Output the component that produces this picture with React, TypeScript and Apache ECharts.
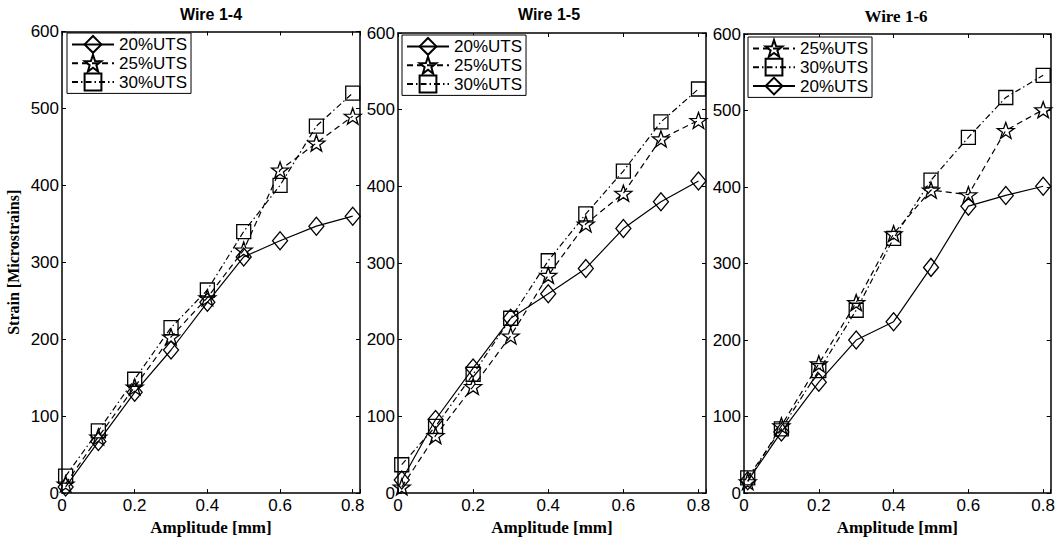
import React, { useEffect, useRef } from "react";
import * as echarts from "echarts";

// ---- data ----
const amplitude = [0.01, 0.1, 0.2, 0.3, 0.4, 0.5, 0.6, 0.7, 0.8];

const wire14_20 = [8, 67, 131, 186, 248, 307, 328, 347, 360];
const wire14_25 = [12, 73, 138, 203, 254, 316, 420, 455, 490];
const wire14_30 = [22, 81, 148, 215, 264, 340, 400, 477, 520];

const wire15_20 = [17, 96, 163, 228, 260, 293, 345, 380, 407];
const wire15_25 = [8, 75, 139, 205, 284, 351, 391, 462, 486];
const wire15_30 = [37, 87, 155, 228, 303, 364, 420, 484, 527];

const wire16_25 = [15, 88, 169, 249, 339, 396, 390, 474, 501];
const wire16_30 = [20, 84, 160, 239, 333, 409, 465, 517, 546];
const wire16_20 = [16, 80, 145, 200, 224, 295, 375, 389, 401];

const panelTitles = ["Wire 1-4", "Wire 1-5", "Wire 1-6"];
const seriesNames = ["20%UTS", "25%UTS", "30%UTS"];
const legendOrders = [
  ["20%UTS", "25%UTS", "30%UTS"],
  ["20%UTS", "25%UTS", "30%UTS"],
  ["25%UTS", "30%UTS", "20%UTS"],
];
const panelData = [
  { "20%UTS": wire14_20, "25%UTS": wire14_25, "30%UTS": wire14_30 },
  { "20%UTS": wire15_20, "25%UTS": wire15_25, "30%UTS": wire15_30 },
  { "20%UTS": wire16_20, "25%UTS": wire16_25, "30%UTS": wire16_30 },
];
const xAxisName = "Amplitude [mm]";
const yAxisName = "Strain [Microstrains]";

// ---- layout / style ----
const grids = [
  { left: 62, top: 31.5, width: 298, height: 467.5 },
  { left: 398, top: 33, width: 308, height: 463.7 },
  { left: 744, top: 34, width: 310, height: 461 },
];
const legendPos = [
  { left: 67, top: 33 },
  { left: 402, top: 35 },
  { left: 748, top: 37 },
];
const titleStyle = [
  { x: 211, y: 6, family: "Liberation Sans", size: 16 },
  { x: 549, y: 6, family: "Liberation Sans", size: 16 },
  { x: 896, y: 8, family: "Liberation Serif", size: 17 },
];

const STAR =
  "path://M0,-10 L2.35,-3.24 L9.51,-3.09 L3.8,1.24 L5.88,8.09 L0,4 L-5.88,8.09 L-3.8,1.24 L-9.51,-3.09 L-2.35,-3.24 Z";

const styleFor: Record<string, any> = {
  "20%UTS": { symbol: "diamond", symbolSize: [15, 18], type: "solid" },
  "25%UTS": { symbol: STAR, symbolSize: [17, 16], type: [6, 4] },
  "30%UTS": { symbol: "rect", symbolSize: [14, 14], type: [6, 3, 1.5, 3] },
};

const SANS = "Liberation Sans";
const SERIF = "Liberation Serif";

export default function App() {
  const ref = useRef<HTMLDivElement>(null);

  useEffect(() => {
    document.body.style.margin = "0";
    if (!ref.current) return;
    const chart = echarts.init(ref.current, undefined, { renderer: "svg" });

    const xAxes: any[] = [];
    const yAxes: any[] = [];
    const series: any[] = [];
    const legends: any[] = [];
    const graphics: any[] = [];

    grids.forEach((g, i) => {
      const commonLine = { show: true, lineStyle: { color: "#000", width: 1.5 } };
      const tick = { show: true, inside: true, length: 4, lineStyle: { color: "#000", width: 1 } };
      xAxes.push({
        type: "value",
        gridIndex: i,
        min: 0,
        max: 0.82,
        interval: 0.2,
        position: "bottom",
        axisLine: { ...commonLine, onZero: false },
        axisTick: tick,
        splitLine: { show: false },
        axisLabel: {
          color: "#000",
          fontFamily: SANS,
          fontSize: 17,
          margin: 4,
          formatter: (v: number) => {
            const r = Math.round(v * 10) / 10;
            if (Math.abs(v - r) > 1e-6 || Math.round(r * 10) % 2 !== 0) return "";
            return r === 0 ? "0" : String(r);
          },
        },
        name: xAxisName,
        nameLocation: "middle",
        nameGap: 21,
        nameTextStyle: { color: "#000", fontFamily: SERIF, fontWeight: "bold", fontSize: 17 },
      });
      xAxes.push({
        type: "value",
        gridIndex: i,
        min: 0,
        max: 0.82,
        interval: 0.2,
        position: "top",
        axisLine: { ...commonLine, onZero: false },
        axisTick: tick,
        splitLine: { show: false },
        axisLabel: { show: false },
      });
      yAxes.push({
        type: "value",
        gridIndex: i,
        min: 0,
        max: 600,
        interval: 100,
        position: "left",
        axisLine: { ...commonLine, onZero: false },
        axisTick: tick,
        splitLine: { show: false },
        axisLabel: { color: "#000", fontFamily: SANS, fontSize: 17, margin: 3 },
        ...(i === 0
          ? {
              name: yAxisName,
              nameLocation: "middle",
              nameGap: 41,
              nameTextStyle: { color: "#000", fontFamily: SERIF, fontWeight: "bold", fontSize: 16 },
            }
          : {}),
      });
      yAxes.push({
        type: "value",
        gridIndex: i,
        min: 0,
        max: 600,
        interval: 100,
        position: "right",
        axisLine: { ...commonLine, onZero: false },
        axisTick: tick,
        splitLine: { show: false },
        axisLabel: { show: false },
      });

      seriesNames.forEach((name) => {
        const st = styleFor[name];
        const vals = (panelData[i] as any)[name] as number[];
        series.push({
          type: "line",
          name,
          xAxisIndex: i * 2,
          yAxisIndex: i * 2,
          data: amplitude.map((x, k) => [x, vals[k]]),
          symbol: st.symbol,
          symbolSize: st.symbolSize,
          showSymbol: true,
          showAllSymbol: true,
          lineStyle: { color: "#000", width: 1.2, type: st.type },
          itemStyle: { color: "rgba(0,0,0,0)", borderColor: "#000", borderWidth: 1.3 },
          emphasis: { disabled: true },
          z: 3,
        });
      });

      legends.push({
        data: legendOrders[i],
        orient: "vertical",
        left: legendPos[i].left,
        top: legendPos[i].top,
        itemWidth: 42,
        itemHeight: 21,
        itemGap: 0,
        padding: [2, 4, 2, 4],
        borderColor: "#000",
        borderWidth: 1,
        borderRadius: 0,
        backgroundColor: "#fff",
        selectedMode: false,
        textStyle: { color: "#000", fontFamily: SANS, fontSize: 17 },
      });

      graphics.push({
        type: "text",
        x: titleStyle[i].x,
        y: titleStyle[i].y,
        style: {
          text: panelTitles[i],
          fill: "#000",
          fontFamily: titleStyle[i].family,
          fontWeight: "bold",
          fontSize: titleStyle[i].size,
          align: "center",
          verticalAlign: "top",
        },
      });
    });

    chart.setOption({
      animation: false,
      backgroundColor: "#fff",
      grid: grids.map((g) => ({ ...g, containLabel: false })),
      xAxis: xAxes,
      yAxis: yAxes,
      series,
      legend: legends,
      graphic: graphics,
    });

    return () => chart.dispose();
  }, []);

  return <div ref={ref} style={{ width: 1058, height: 541 }} />;
}
